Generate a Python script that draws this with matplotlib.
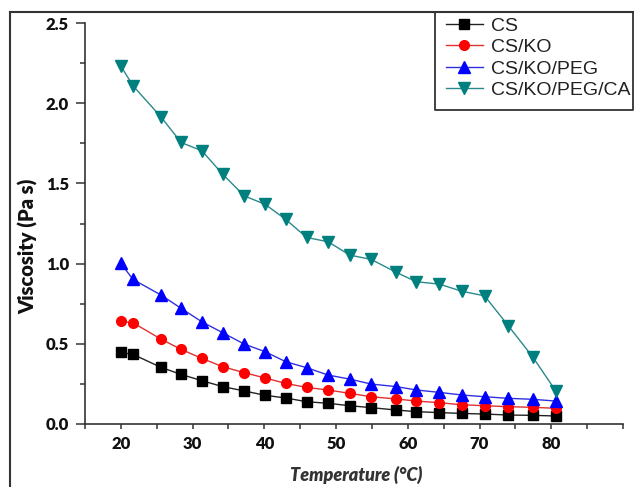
import matplotlib
matplotlib.use("Agg")
import matplotlib.pyplot as plt
from matplotlib.lines import Line2D
from matplotlib.ticker import FixedLocator

temperature = [20.0, 21.7, 25.6, 28.4, 31.3, 34.2, 37.2, 40.1, 43.0, 45.9, 48.9,
               51.9, 54.9, 58.4, 61.2, 64.4, 67.5, 70.7, 74.0, 77.4, 80.6]

cs = [0.446, 0.434, 0.353, 0.309, 0.270, 0.233, 0.206, 0.179, 0.162, 0.139, 0.129,
      0.114, 0.102, 0.087, 0.077, 0.071, 0.066, 0.062, 0.056, 0.054, 0.050]
cs_ko = [0.640, 0.631, 0.529, 0.465, 0.409, 0.357, 0.320, 0.287, 0.253, 0.228, 0.212,
         0.191, 0.170, 0.156, 0.143, 0.133, 0.120, 0.114, 0.108, 0.104, 0.098]
cs_ko_peg = [1.001, 0.901, 0.804, 0.721, 0.637, 0.569, 0.498, 0.451, 0.388, 0.351, 0.305,
             0.280, 0.249, 0.233, 0.212, 0.197, 0.181, 0.170, 0.160, 0.154, 0.143]
cs_ko_peg_ca = [2.232, 2.108, 1.914, 1.755, 1.703, 1.557, 1.422, 1.370, 1.275, 1.163, 1.136,
                1.053, 1.026, 0.945, 0.887, 0.872, 0.828, 0.799, 0.613, 0.419, 0.208]

labels = ["CS", "CS/KO", "CS/KO/PEG", "CS/KO/PEG/CA"]
x_ticks = [20, 30, 40, 50, 60, 70, 80]
x_tick_labels = ["20", "30", "40", "50", "60", "70", "80"]
x_minor_ticks = [15, 25, 35, 45, 55, 65, 75, 85, 90]
y_ticks = [0.0, 0.5, 1.0, 1.5, 2.0, 2.5]
y_tick_labels = ["0.0", "0.5", "1.0", "1.5", "2.0", "2.5"]
y_minor_ticks = [0.25, 0.75, 1.25, 1.75, 2.25]

W, H = 634, 487
fig = plt.figure(figsize=(W / 100, H / 100), dpi=100)

def fx(px):
    return px / W

def fy(py):
    return 1 - py / H

ax = fig.add_axes([fx(85), fy(424), fx(623) - fx(85), fy(23) - fy(424)])

series = [cs, cs_ko, cs_ko_peg, cs_ko_peg_ca]
colors = ["#000000", "#ff0000", "#0000ff", "#007f7f"]
line_colors = ["#222222", "#e03030", "#3030e0", "#2a8a8a"]
markers = ["s", "o", "^", "v"]
msizes = [7, 7, 8, 8.5]

handles = []
for vals, c, lc, m, ms, lab in zip(series, colors, line_colors, markers, msizes, labels):
    h, = ax.plot(temperature, vals, color=lc, lw=1.0, marker=m, markersize=ms,
                 markerfacecolor=c, markeredgecolor=c, label=lab, clip_on=False)
    handles.append(h)

ax.set_xlim(15, 90)
ax.set_ylim(0, 2.5)

for s in ["top", "right"]:
    ax.spines[s].set_visible(False)
for s in ["left", "bottom"]:
    ax.spines[s].set_color("#333333")
    ax.spines[s].set_linewidth(1.2)

ax.xaxis.set_major_locator(FixedLocator(x_ticks))
ax.set_xticklabels(x_tick_labels)
ax.xaxis.set_minor_locator(FixedLocator(x_minor_ticks))
ax.yaxis.set_major_locator(FixedLocator(y_ticks))
ax.set_yticklabels(y_tick_labels)
ax.yaxis.set_minor_locator(FixedLocator(y_minor_ticks))

ax.tick_params(axis="x", which="both", direction="out", length=3.6, width=1.1,
               color="#333333", pad=5)
ax.tick_params(axis="y", which="major", direction="out", length=6.5, width=1.1,
               color="#333333", pad=5)
ax.tick_params(axis="y", which="minor", direction="out", length=3.6, width=1.1,
               color="#333333")
for t in ax.get_xticklabels() + ax.get_yticklabels():
    t.set_fontfamily("Lato")
    t.set_fontweight("heavy")
    t.set_fontsize(12)
    t.set_color("#111111")

fig.text(fx(28), fy(246.5), "Viscosity (Pa s)", rotation=90, ha="center", va="center",
         fontfamily="Lato", fontweight="heavy", fontsize=14.5, color="#111111")
fig.text(fx(356), fy(475), "Temperature (°C)", ha="center", va="center",
         fontfamily="Lato", fontweight="heavy", fontstyle="italic", fontsize=13,
         color="#333333")

# figure frame
fig.add_artist(Line2D([fx(10), fx(10)], [fy(12), fy(487)], color="#333333", lw=1.5))
fig.add_artist(Line2D([fx(10), fx(634)], [fy(12), fy(12)], color="#333333", lw=1.5))

# legend box
fig.add_artist(Line2D([fx(435), fx(435), fx(633), fx(633)],
                      [fy(12), fy(110), fy(110), fy(12)], color="#333333", lw=1.3))

leg = fig.legend(handles=handles, labels=labels, loc="upper left",
                 bbox_to_anchor=(fx(446), fy(17)), bbox_transform=fig.transFigure,
                 frameon=False, borderpad=0, borderaxespad=0,
                 handlelength=1.9, handletextpad=0.4, labelspacing=0.2,
                 prop={"family": "Liberation Sans", "size": 14})
for t in leg.get_texts():
    t.set_color("#222222")

fig.savefig("out.png", dpi=100)
